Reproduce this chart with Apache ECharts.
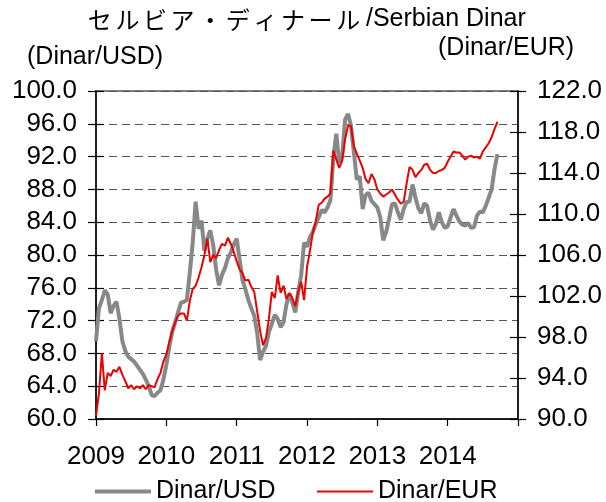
<!DOCTYPE html>
<html>
<head>
<meta charset="utf-8">
<script src="https://cdn.jsdelivr.net/npm/echarts@6/dist/echarts.min.js"></script>
<style>
  html, body { margin: 0; padding: 0; background: #fff; }
  #rate-chart { width: 606px; height: 502px; }
</style>
</head>
<body>
<div id="rate-chart"></div>
<script>
// Tick labels for the year axis (one label per January)
const years = ['2009', '2010', '2011', '2012', '2013', '2014'];
const samplesPerYear = 24; // values every half month

// Dinar per USD (left axis)
const usd = [
    69.5, 73.5, 74.5, 75.7, 75.2, 72.9, 73.8, 74.3, 72.2, 69.5,
    68.3, 67.6, 67.3, 67.0, 66.5, 66.0, 65.5, 64.8, 64.0, 62.9,
    62.8, 63.2, 63.5, 64.8, 66.6, 68.8, 70.6, 71.8, 73.0, 74.2,
    74.3, 74.5, 77.8, 81.5, 86.5, 83.2, 84.2, 80.5, 82.0, 83.0,
    81.2, 78.2, 76.3, 77.6, 78.4, 79.6, 80.3, 81.3, 82.0, 79.5,
    76.9, 75.8, 74.5, 73.5, 72.6, 70.5, 67.2, 68.2, 68.9, 70.6,
    71.6, 72.7, 72.2, 71.2, 71.8, 74.0, 75.3, 74.2, 73.0, 75.5,
    77.5, 81.5, 81.0, 82.2, 82.8, 83.8, 84.6, 85.5, 85.2, 85.8,
    86.7, 91.9, 94.8, 91.2, 92.0, 96.5, 97.2, 95.8, 92.5, 89.2,
    89.6, 85.6, 87.3, 87.6, 86.6, 86.2, 85.8, 84.6, 81.8, 82.8,
    84.4, 86.2, 86.3, 85.2, 84.3, 85.6, 86.5, 86.5, 88.6, 87.0,
    85.7, 85.1, 86.3, 86.0, 84.2, 83.1, 83.8, 85.2, 84.0, 83.3,
    83.5, 84.6, 85.6, 84.8, 84.1, 83.7, 83.6, 83.9, 83.3, 83.4,
    84.8, 85.3, 85.2, 86.0, 87.0, 88.0, 90.5, 92.3
];

// Dinar per EUR (right axis)
const eur = [
    90.3, 92.5, 96.4, 92.8, 94.5, 94.2, 94.8, 94.6, 95.1, 94.3,
    93.7, 93.0, 93.3, 92.9, 93.2, 93.0, 93.3, 92.9, 93.3, 93.2,
    93.1, 93.9, 94.5, 95.6, 96.3, 97.5, 98.6, 99.4, 100.1, 100.3,
    100.3, 99.6, 101.5, 102.7, 103.0, 103.8, 104.8, 106.0, 107.6, 105.3,
    106.0, 105.7, 106.5, 107.1, 106.9, 107.7, 107.1, 106.3, 105.4, 104.6,
    104.2, 103.5, 103.6, 102.9, 102.4, 100.5, 98.6, 97.2, 97.9, 99.8,
    102.4, 101.8, 104.0, 102.3, 103.0, 101.7, 102.3, 101.8, 101.0, 102.4,
    103.4, 101.6, 104.8, 106.4, 108.2, 109.3, 110.9, 111.1, 111.5, 111.7,
    112.0, 116.2, 115.3, 114.5, 115.2, 117.3, 118.6, 118.6, 116.6, 115.9,
    115.2, 114.5, 113.4, 113.0, 113.9, 113.4, 112.4, 112.0, 111.7, 111.9,
    112.1, 112.4, 111.9, 111.4, 111.0, 111.2, 113.0, 114.6, 114.3, 113.6,
    114.0, 114.3, 114.8, 114.9, 114.3, 114.0, 114.0, 114.2, 114.3, 114.5,
    115.1, 115.6, 116.1, 116.0, 116.0, 115.7, 115.3, 115.6, 115.7, 115.5,
    115.6, 115.4, 116.1, 116.5, 116.9, 117.5, 118.3, 119.0
];

const titleJp = 'セルビア・ディナール';
const fontLatin = '"Liberation Sans", Arial, sans-serif';
const fontJp = '"Noto Sans CJK JP", sans-serif';

const leftAxis = { min: 60, max: 100, interval: 4 };
const rightAxis = { min: 90, max: 122, interval: 4 };

function valueAxis(range, position, tickInside, showLabel) {
    return {
        type: 'value',
        position: position,
        min: range.min,
        max: range.max,
        interval: range.interval,
        axisLine: { show: !tickInside, lineStyle: { color: '#000', width: 1.5 } },
        axisTick: { show: true, inside: tickInside, length: 8, lineStyle: { color: '#000', width: 1.2 } },
        axisLabel: {
            show: showLabel,
            margin: 19,
            color: '#000',
            fontSize: 26,
            fontFamily: fontLatin,
            formatter: function (v) { return v.toFixed(1); }
        },
        splitLine: { show: false }
    };
}

const yLeft = valueAxis(leftAxis, 'left', false, true);
yLeft.splitLine = { show: true, lineStyle: { color: '#555', width: 1.2, type: [8, 5] } };

const chart = echarts.init(document.getElementById('rate-chart'));
const option = {
    animation: false,
    backgroundColor: '#fff',
    title: [
        {
            text: titleJp.split('').map(c => '{jp|' + c + '}').join('') + '{en|/Serbian Dinar}',
            left: 86,
            top: 7,
            padding: 0,
            textStyle: {
                fontWeight: 'normal',
                rich: {
                    jp: { fontFamily: fontJp, fontSize: 24, fontWeight: 'normal', color: '#000', padding: [0, 1.8] },
                    en: { fontFamily: fontLatin, fontSize: 25, fontWeight: 'normal', color: '#000', padding: [0, 0, 0, 4] }
                }
            }
        },
        {
            text: '(Dinar/USD)',
            left: 27,
            top: 45,
            padding: 0,
            textStyle: { fontFamily: fontLatin, fontSize: 25, fontWeight: 'normal', color: '#000' }
        },
        {
            text: '(Dinar/EUR)',
            left: 438,
            top: 36,
            padding: 0,
            textStyle: { fontFamily: fontLatin, fontSize: 25, fontWeight: 'normal', color: '#000' }
        }
    ],
    legend: [
        {
            data: ['Dinar/USD'],
            left: 95,
            top: 479,
            padding: 0,
            icon: 'rect',
            itemWidth: 56,
            itemHeight: 4,
            textStyle: { fontFamily: fontLatin, fontSize: 25, color: '#000' }
        },
        {
            data: ['Dinar/EUR'],
            left: 317,
            top: 479,
            padding: 0,
            icon: 'rect',
            itemWidth: 56,
            itemHeight: 2,
            textStyle: { fontFamily: fontLatin, fontSize: 25, color: '#000' }
        }
    ],
    grid: {
        left: 96,
        right: 88,
        top: 91,
        bottom: 83,
        show: true,
        borderColor: '#555',
        borderWidth: 1.5
    },
    xAxis: {
        type: 'value',
        min: 0,
        max: years.length * samplesPerYear,
        interval: samplesPerYear,
        axisLine: { lineStyle: { color: '#000', width: 1.5 } },
        axisTick: { length: 7, lineStyle: { color: '#000', width: 1.2 } },
        axisLabel: {
            margin: 25,
            color: '#000',
            fontSize: 26,
            fontFamily: fontLatin,
            formatter: function (v) { return years[v / samplesPerYear] || ''; }
        },
        splitLine: { show: false }
    },
    yAxis: [
        yLeft,
        valueAxis(rightAxis, 'right', false, true),
        valueAxis(leftAxis, 'left', true, false),
        valueAxis(rightAxis, 'right', true, false)
    ],
    series: [
        {
            name: 'Dinar/USD',
            type: 'line',
            yAxisIndex: 0,
            symbol: 'none',
            itemStyle: { color: '#888888' },
            lineStyle: { color: '#888888', width: 4 },
            data: usd.map((v, i) => [i, v])
        },
        {
            name: 'Dinar/EUR',
            type: 'line',
            yAxisIndex: 1,
            symbol: 'none',
            itemStyle: { color: '#ee0000' },
            lineStyle: { color: '#ee0000', width: 2 },
            data: eur.map((v, i) => [i, v])
        }
    ]
};
chart.setOption(option);
window.addEventListener('resize', function () {
    chart.resize();
});
</script>
</body>
</html>
